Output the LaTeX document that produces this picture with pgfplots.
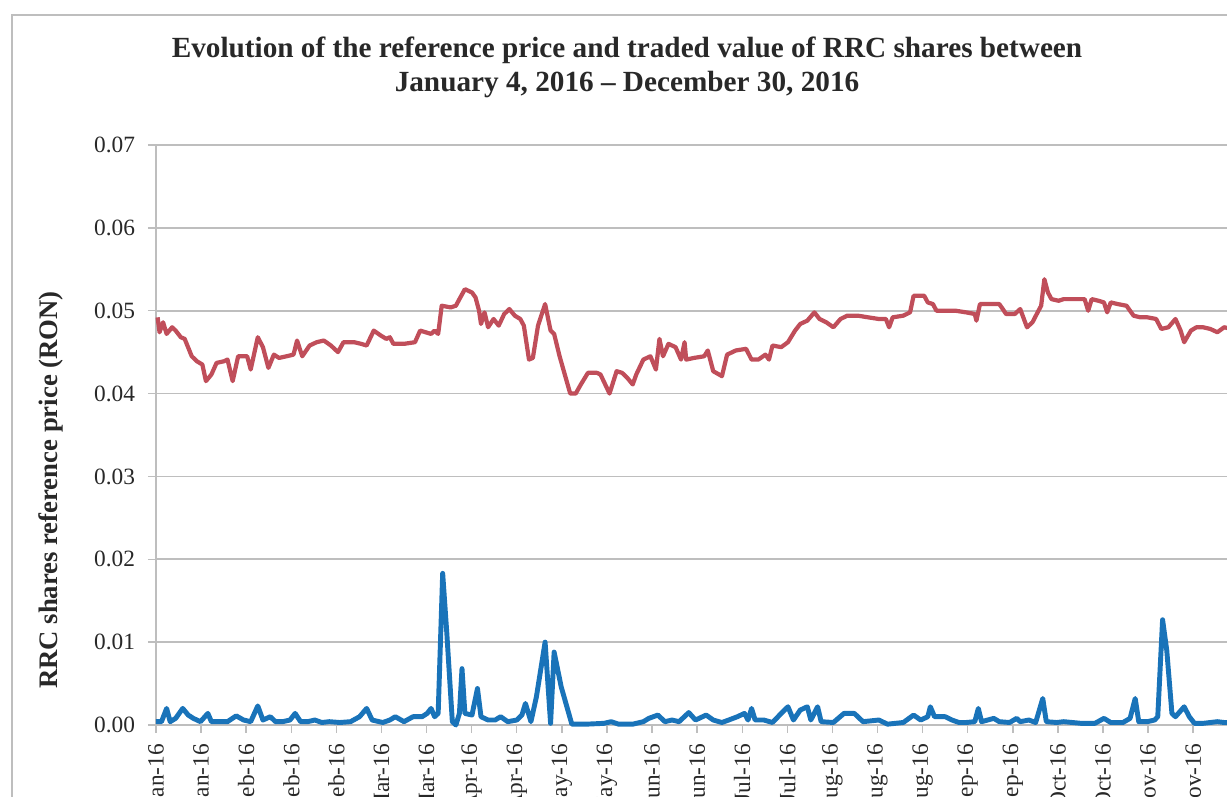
\documentclass[border=0pt]{standalone}
\usepackage{fontspec}
\setmainfont{Liberation Serif}
\usepackage{pgfplots}
\pgfplotsset{compat=1.18}
\definecolor{pricered}{RGB}{192,78,90}
\definecolor{valueblue}{RGB}{25,115,185}
\definecolor{gridgray}{RGB}{190,190,190}
\definecolor{textgray}{RGB}{40,40,40}

\begin{document}
\begin{tikzpicture}
% 1 px of the reference = 0.25 mm
\begin{axis}[
  scale only axis,
  width=267.75mm, height=145mm,
  xmin=0, xmax=332.5,
  ymin=0, ymax=0.07,
  clip=false,
  axis x line*=bottom, axis y line*=left,
  axis line style={gridgray, line width=1.2pt, -},
  ymajorgrids,
  grid style={gridgray, line width=1.2pt},
  ytick={0,0.01,...,0.07},
  scaled y ticks=false,
  xtick={0,14,...,322},
  xticklabels={Jan-16,Jan-16,Feb-16,Feb-16,Feb-16,Mar-16,Mar-16,Apr-16,Apr-16,May-16,May-16,Jun-16,Jun-16,Jul-16,Jul-16,Aug-16,Aug-16,Aug-16,Sep-16,Sep-16,Oct-16,Oct-16,Nov-16,Nov-16},
  tick align=outside,
  major tick length=2mm,
  tick style={gridgray, line width=1pt},
  /pgf/number format/assume math mode=true,
  yticklabel style={/pgf/number format/fixed, /pgf/number format/fixed zerofill,
    /pgf/number format/precision=2, xshift=-2mm},
  ticklabel style={font=\fontsize{16.6}{18}\selectfont, text=textgray},
  xticklabel style={rotate=90, anchor=east, xshift=-1.5mm},
  title={Evolution of the reference price and traded value of RRC shares between\\January 4, 2016 -- December 30, 2016},
  title style={at={(axis description cs:0.4398,1.119)}, anchor=center, align=center,
    font=\fontsize{20.8}{24.2}\selectfont\bfseries, text=textgray},
  ylabel={RRC shares reference price (RON)},
  ylabel style={at={(axis description cs:-0.0985,0.405)}, anchor=center, rotate=0,
    font=\fontsize{19}{22}\selectfont\bfseries, text=textgray},
]
% reference price
\addplot[pricered, line width=3pt, line join=round] coordinates {
(0.5,0.0492)(1.1,0.0474)(2.2,0.0486)(3.3,0.0472)(5.0,0.0480)(6.1,0.0476)
(7.7,0.0468)(8.9,0.0466)(11.1,0.0445)(12.7,0.0439)(14.4,0.0435)(15.5,0.0415)
(17.2,0.0423)(18.8,0.0437)(21.1,0.0439)(22.2,0.0441)(23.8,0.0415)(25.5,0.0445)
(28.3,0.0445)(29.4,0.0429)(31.6,0.0468)(33.2,0.0456)(34.9,0.0431)(36.6,0.0447)
(38.2,0.0443)(40.5,0.0445)(42.7,0.0447)(43.8,0.0464)(45.4,0.0445)(47.7,0.0458)
(49.9,0.0462)(52.1,0.0464)(54.3,0.0458)(56.5,0.0450)(58.2,0.0462)(61.5,0.0462)
(63.7,0.0460)(65.4,0.0458)(67.6,0.0476)(69.8,0.0470)(71.5,0.0466)(72.6,0.0468)
(73.7,0.0460)(77.0,0.0460)(80.4,0.0462)(82.0,0.0476)(83.7,0.0474)(85.4,0.0472)
(86.5,0.0476)(87.6,0.0472)(88.7,0.0506)(91.5,0.0504)(93.1,0.0506)(94.2,0.0514)
(95.9,0.0526)(98.1,0.0522)(99.2,0.0516)(100.3,0.0500)(100.9,0.0484)(102.0,0.0498)
(103.1,0.0480)(104.8,0.0490)(106.4,0.0482)(108.1,0.0496)(109.7,0.0502)(111.4,0.0494)
(113.1,0.0490)(114.2,0.0482)(115.8,0.0441)(117.0,0.0443)(118.6,0.0482)(120.8,0.0508)
(122.5,0.0476)(123.6,0.0472)(125.3,0.0445)(128.6,0.0400)(130.3,0.0400)(131.9,0.0411)
(134.1,0.0425)(136.9,0.0425)(138.0,0.0423)(140.8,0.0400)(143.0,0.0427)(144.7,0.0425)
(146.3,0.0419)(148.0,0.0411)(149.1,0.0423)(151.3,0.0441)(153.5,0.0445)(155.2,0.0429)
(156.3,0.0466)(157.4,0.0445)(159.1,0.0460)(161.3,0.0456)(163.0,0.0441)(164.1,0.0462)
(164.6,0.0441)(167.0,0.0443)(170.2,0.0445)(171.3,0.0452)(173.0,0.0427)(175.7,0.0421)
(177.3,0.0447)(180.0,0.0452)(183.2,0.0454)(184.9,0.0441)(187.0,0.0441)(189.2,0.0447)
(190.3,0.0441)(191.4,0.0458)(194.1,0.0456)(196.2,0.0462)(198.4,0.0476)(200.0,0.0484)
(202.2,0.0488)(204.4,0.0498)(206.0,0.0490)(208.1,0.0486)(210.3,0.0480)(212.5,0.0490)
(214.6,0.0494)(217.9,0.0494)(221.1,0.0492)(224.4,0.0490)(226.6,0.0490)(227.6,0.0480)
(228.7,0.0492)(232.0,0.0494)(234.1,0.0498)(235.2,0.0518)(238.5,0.0518)(239.6,0.0510)
(241.2,0.0508)(242.3,0.0500)(245.0,0.0500)(248.2,0.0500)(251.5,0.0498)(254.2,0.0496)
(254.7,0.0488)(255.8,0.0508)(259.1,0.0508)(261.8,0.0508)(262.9,0.0502)(263.9,0.0496)
(266.6,0.0496)(268.3,0.0502)(270.4,0.0480)(272.1,0.0486)(273.7,0.0498)(274.8,0.0506)
(275.8,0.0538)(276.9,0.0522)(278.0,0.0514)(280.2,0.0512)(281.8,0.0514)(285.0,0.0514)
(288.3,0.0514)(289.4,0.0500)(290.5,0.0514)(292.6,0.0512)(294.3,0.0510)(295.3,0.0498)
(296.4,0.0510)(298.6,0.0508)(301.3,0.0506)(303.5,0.0494)(305.6,0.0492)(307.8,0.0492)
(310.5,0.0490)(312.1,0.0478)(314.3,0.0480)(316.5,0.0490)(318.1,0.0476)(319.2,0.0462)
(321.3,0.0476)(323.0,0.0480)(325.1,0.0480)(327.3,0.0478)(329.5,0.0474)(331.6,0.0480)
(334.0,0.0478)
};
% traded value
\addplot[valueblue, line width=3.5pt, line join=round] coordinates {
(0.0,0.0004)(1.7,0.0004)(3.3,0.0020)(4.4,0.0004)(6.1,0.0008)(8.3,0.0020)
(10.0,0.0012)(11.6,0.0008)(13.8,0.0004)(16.1,0.0014)(17.2,0.0004)(19.9,0.0004)
(22.2,0.0004)(24.9,0.0011)(27.2,0.0006)(29.4,0.0004)(31.6,0.0023)(33.2,0.0006)
(35.5,0.0010)(37.1,0.0004)(39.3,0.0004)(41.6,0.0006)(43.2,0.0014)(44.9,0.0004)
(47.1,0.0004)(49.3,0.0006)(51.5,0.0003)(53.8,0.0004)(57.1,0.0003)(60.4,0.0004)
(63.2,0.0010)(65.4,0.0020)(67.1,0.0006)(70.4,0.0003)(72.6,0.0006)(74.3,0.0010)
(77.0,0.0004)(79.8,0.0010)(82.6,0.0010)(84.2,0.0014)(85.4,0.0020)(86.5,0.0010)
(87.6,0.0014)(89.0,0.0183)(90.3,0.0110)(92.0,0.0004)(93.1,0.0000)(94.2,0.0014)
(95.0,0.0068)(95.9,0.0014)(98.1,0.0012)(99.8,0.0044)(100.9,0.0010)(103.1,0.0006)
(105.3,0.0006)(107.0,0.0010)(109.2,0.0004)(112.0,0.0006)(113.6,0.0012)(114.7,0.0026)
(116.4,0.0004)(118.1,0.0034)(120.8,0.0100)(122.5,0.0002)(123.6,0.0088)(125.8,0.0046)
(129.1,0.0001)(133.6,0.0001)(139.1,0.0002)(141.3,0.0004)(143.6,0.0001)(148.0,0.0001)
(151.3,0.0004)(153.0,0.0008)(155.8,0.0012)(158.0,0.0004)(160.2,0.0006)(162.4,0.0004)
(165.4,0.0015)(167.5,0.0006)(170.8,0.0012)(173.0,0.0006)(175.7,0.0003)(177.8,0.0006)
(180.5,0.0010)(182.7,0.0014)(183.8,0.0006)(184.9,0.0020)(186.0,0.0006)(188.7,0.0006)
(191.4,0.0003)(194.1,0.0014)(196.2,0.0022)(197.9,0.0006)(200.0,0.0018)(202.2,0.0022)
(203.3,0.0006)(205.4,0.0022)(206.5,0.0004)(210.3,0.0003)(213.6,0.0014)(216.8,0.0014)
(219.5,0.0004)(224.4,0.0006)(227.1,0.0001)(232.0,0.0003)(235.2,0.0012)(237.4,0.0006)
(239.6,0.0010)(240.4,0.0022)(241.7,0.0010)(245.0,0.0010)(247.1,0.0006)(249.3,0.0003)
(251.5,0.0003)(254.2,0.0004)(255.3,0.0020)(256.3,0.0004)(260.1,0.0008)(261.8,0.0004)
(265.0,0.0003)(267.2,0.0008)(268.3,0.0004)(271.0,0.0006)(273.1,0.0003)(275.3,0.0032)
(276.4,0.0004)(279.6,0.0003)(281.8,0.0004)(287.2,0.0002)(291.5,0.0002)(294.3,0.0008)
(296.4,0.0003)(300.2,0.0003)(302.4,0.0008)(304.0,0.0032)(305.1,0.0004)(307.8,0.0004)
(310.0,0.0006)(311.0,0.0010)(312.5,0.0127)(313.8,0.0090)(315.4,0.0014)(316.5,0.0010)
(319.2,0.0022)(320.8,0.0010)(322.4,0.0002)(325.1,0.0002)(329.5,0.0004)(331.6,0.0003)
(334.0,0.0003)
};
\end{axis}
% outer chart frame (left and top edges visible in the crop)
\draw[gridgray, line width=1pt] (-36mm,-30mm) -- (-36mm,177.5mm) -- (280mm,177.5mm);
\pgfresetboundingbox
\useasboundingbox (-39mm,-18mm) rectangle (267.75mm,181.25mm);
\end{tikzpicture}
\end{document}
